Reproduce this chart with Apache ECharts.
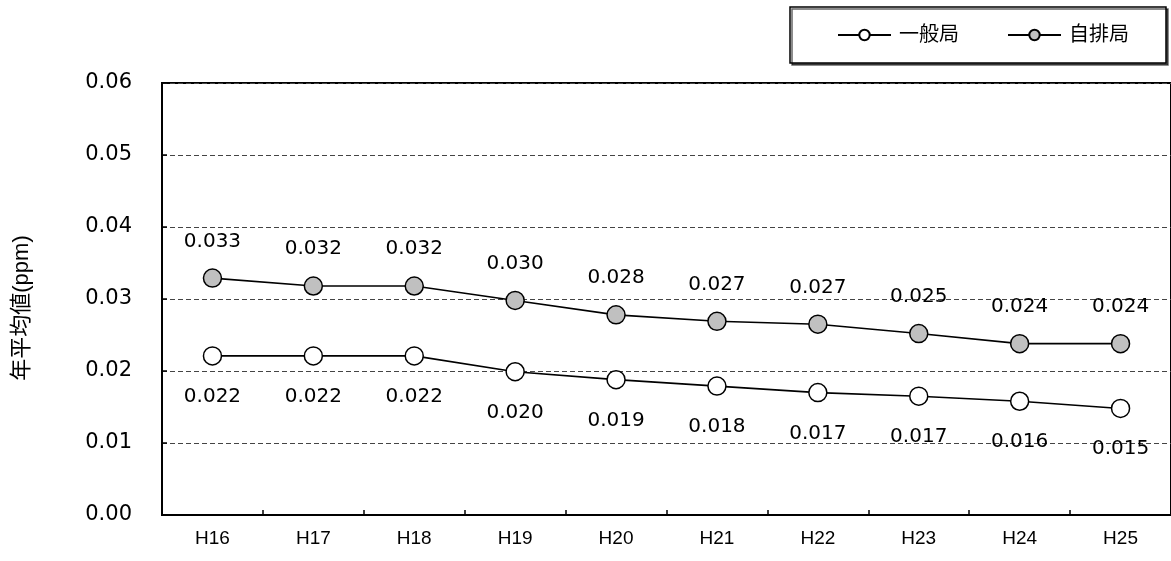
<!DOCTYPE html>
<html>
<head>
<meta charset="utf-8">
<script src="https://cdn.jsdelivr.net/npm/echarts@6/dist/echarts.min.js"></script>
<style>
html,body{margin:0;padding:0;background:#fff;}
#c{width:1171px;height:561px;}
</style>
</head>
<body>
<div id="c"></div>
<script>
const categories = ['H16','H17','H18','H19','H20','H21','H22','H23','H24','H25'];
const ippanValues = [0.0221,0.0221,0.0221,0.0199,0.0188,0.0179,0.0170,0.0165,0.0158,0.0148];
const jihaiValues = [0.0329,0.0318,0.0318,0.0298,0.0278,0.0269,0.0265,0.0252,0.0238,0.0238];
const ippanLabels = ['0.022','0.022','0.022','0.020','0.019','0.018','0.017','0.017','0.016','0.015'];
const jihaiLabels = ['0.033','0.032','0.032','0.030','0.028','0.027','0.027','0.025','0.024','0.024'];
const yTickLabels = ['0.00','0.01','0.02','0.03','0.04','0.05','0.06'];

const font = '"Liberation Sans", Arial, "Noto Sans CJK JP", sans-serif';
const numFont = '"DejaVu Sans", "Liberation Sans", sans-serif';
const chart = echarts.init(document.getElementById('c'));
chart.setOption({
  animation: false,
  backgroundColor: '#fff',
  textStyle: { fontFamily: font, color: '#000' },
  legend: {
    left: 790, top: 7,
    padding: [18, 37, 18, 47],
    borderColor: '#000', borderWidth: 1.5,
    shadowColor: 'rgba(0,0,0,0.6)', shadowOffsetX: 2, shadowOffsetY: 2, shadowBlur: 0,
    backgroundColor: '#fff',
    itemWidth: 53, itemHeight: 13, itemGap: 48,
    textStyle: { fontSize: 20, color: '#000', fontFamily: font, padding: [0,0,0,3] },
    data: ['一般局','自排局']
  },
  grid: {
    left: 162, right: -6, top: 83, bottom: 46,
    show: true, borderColor: '#000', borderWidth: 2, backgroundColor: 'transparent'
  },
  xAxis: {
    type: 'category',
    data: categories,
    boundaryGap: true,
    axisLine: { show: true, lineStyle: { color: '#000', width: 2 } },
    axisTick: { show: true, inside: true, length: 5, lineStyle: { color: '#000', width: 1.5 } },
    axisLabel: { fontSize: 19, color: '#000', margin: 14, fontFamily: font },
    splitLine: { show: false }
  },
  yAxis: {
    type: 'value',
    min: 0, max: 0.06, interval: 0.01,
    name: '年平均値(ppm)',
    nameLocation: 'middle',
    nameRotate: 90,
    nameGap: 129,
    nameTextStyle: { fontSize: 22, color: '#000', fontFamily: font, padding: [0, 18, 0, 0] },
    axisLine: { show: true, lineStyle: { color: '#000', width: 2 } },
    axisTick: { show: true, inside: true, length: 5, lineStyle: { color: '#000', width: 1.5 } },
    axisLabel: {
      fontSize: 21, color: '#000', margin: 30, fontFamily: numFont,
      formatter: function (v) { return yTickLabels[Math.round(v / 0.01)]; }
    },
    splitLine: { show: true, lineStyle: { color: '#444', width: 1, type: [5, 3] } }
  },
  series: [
    {
      name: '一般局', type: 'line', data: ippanValues,
      symbol: 'circle', symbolSize: 18,
      lineStyle: { color: '#000', width: 1.6 },
      itemStyle: { color: '#fff', borderColor: '#000', borderWidth: 1.5 },
      label: {
        show: true, position: 'bottom', distance: 21,
        fontSize: 20, color: '#000', fontFamily: numFont,
        formatter: function (p) { return ippanLabels[p.dataIndex]; }
      },
      z: 3
    },
    {
      name: '自排局', type: 'line', data: jihaiValues,
      symbol: 'circle', symbolSize: 18,
      lineStyle: { color: '#000', width: 1.6 },
      itemStyle: { color: '#c0c0c0', borderColor: '#000', borderWidth: 1.5 },
      label: {
        show: true, position: 'top', distance: 17,
        fontSize: 20, color: '#000', fontFamily: numFont,
        formatter: function (p) { return jihaiLabels[p.dataIndex]; }
      },
      z: 3
    }
  ]
});
</script>
</body>
</html>
